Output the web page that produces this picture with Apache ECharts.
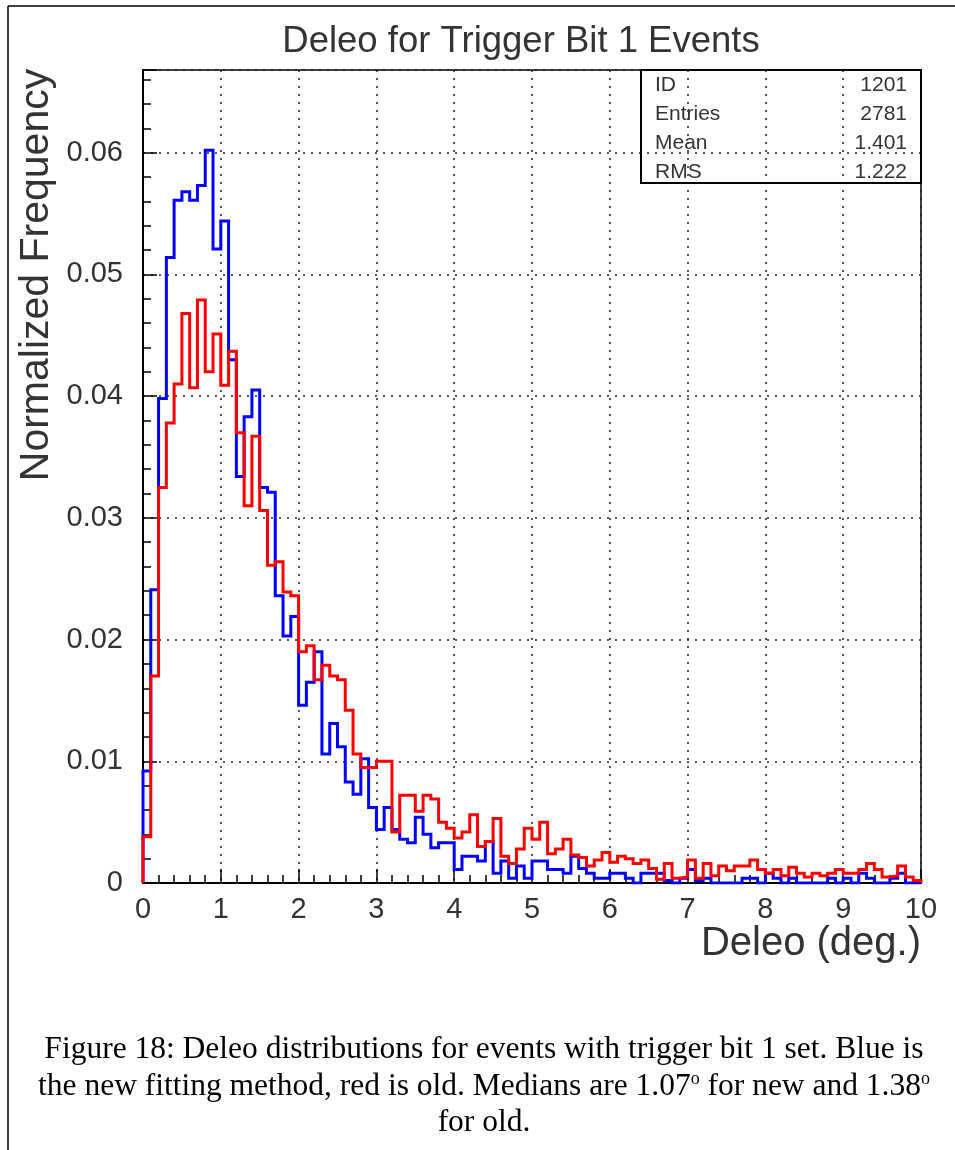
<!DOCTYPE html>
<html><head><meta charset="utf-8">
<script src="https://cdn.jsdelivr.net/npm/echarts@6/dist/echarts.min.js"></script>
<style>html,body{margin:0;padding:0;background:#fff}#c{width:955px;height:1150px}</style>
</head><body><div id="c"></div>
<script>
// Histogram: 100 bins of width 0.1 deg from 0 to 10
const binWidth = 0.1;
const xMin = 0, xMax = 10;
// Blue: new fitting method (normalized frequency per bin)
const newMethod = [
 0.0092,0.0241,0.0398,0.0514,0.0561,0.0568,0.0561,0.0573,0.0602,0.0521,
 0.0544,0.0430,0.0334,0.0383,0.0405,0.0325,0.0321,0.0236,0.0203,0.0219,
 0.0146,0.0165,0.0190,0.0106,0.0131,0.0112,0.0083,0.0073,0.0102,0.0062,
 0.0044,0.0062,0.0044,0.0036,0.0033,0.0054,0.0040,0.0029,0.0033,0.0033,
 0.0011,0.0022,0.0022,0.0018,0.0034,0.0008,0.0018,0.0004,0.0014,0.0004,
 0.0018,0.0018,0.0011,0.0011,0.0008,0.0022,0.0012,0.0008,0.0004,0.0004,
 0.0008,0.0008,0.0004,0.0000,0.0008,0.0008,0.0008,0.0002,0.0000,0.0004,
 0.0011,0.0002,0.0004,0.0000,0.0000,0.0000,0.0000,0.0004,0.0004,0.0000,
 0.0008,0.0004,0.0000,0.0004,0.0000,0.0000,0.0000,0.0000,0.0004,0.0000,
 0.0004,0.0000,0.0008,0.0004,0.0000,0.0000,0.0004,0.0008,0.0000,0.0000
];
// Red: old method
const oldMethod = [
 0.0038,0.0170,0.0325,0.0378,0.0410,0.0468,0.0407,0.0479,0.0420,0.0451,
 0.0409,0.0437,0.0370,0.0310,0.0367,0.0306,0.0261,0.0264,0.0239,0.0236,
 0.0190,0.0195,0.0167,0.0179,0.0170,0.0167,0.0142,0.0106,0.0095,0.0095,
 0.0100,0.0100,0.0042,0.0072,0.0072,0.0059,0.0072,0.0069,0.0050,0.0045,
 0.0037,0.0042,0.0056,0.0030,0.0034,0.0053,0.0022,0.0016,0.0028,0.0045,
 0.0036,0.0050,0.0024,0.0028,0.0036,0.0023,0.0021,0.0014,0.0019,0.0025,
 0.0017,0.0022,0.0020,0.0016,0.0019,0.0012,0.0003,0.0016,0.0004,0.0005,
 0.0019,0.0004,0.0016,0.0006,0.0014,0.0010,0.0014,0.0014,0.0019,0.0011,
 0.0008,0.0011,0.0006,0.0013,0.0008,0.0005,0.0008,0.0006,0.0008,0.0011,
 0.0008,0.0008,0.0011,0.0016,0.0011,0.0005,0.0006,0.0014,0.0005,0.0002
];
const statsLabels = ['ID', 'Entries', 'Mean', 'RMS'];
const statsValues = ['1201', '2781', '1.401', '1.222'];
const titleText = 'Deleo for Trigger Bit 1 Events';
const xAxisTitle = 'Deleo (deg.)';
const yAxisTitle = 'Normalized Frequency';
const captionLines = [
 'Figure 18: Deleo distributions for events with trigger bit 1 set. Blue is',
 'the new fitting method, red is old. Medians are 1.07{sup|o} for new and 1.38{sup|o}',
 'for old.'
];

function stepPoints(vals) {
  const pts = [[xMin, 0]];
  vals.forEach((v, i) => pts.push([+(i * binWidth).toFixed(2), v]));
  pts.push([xMax, vals[vals.length - 1]]);
  pts.push([xMax, 0]);
  return pts;
}

const FONT = '"Liberation Sans", Arial, sans-serif';
const TXT = '#333';
const SERIF = '"Liberation Serif", "Times New Roman", serif';
const chart = echarts.init(document.getElementById('c'), null, {renderer: 'canvas'});

const tickStyle = {color: '#000', width: 1.5};
const option = {
  animation: false,
  backgroundColor: '#fff',
  grid: {left: 143, right: 34, top: 70, bottom: 267, show: true, borderColor: '#000', borderWidth: 1.5, backgroundColor: 'transparent'},
  xAxis: {
    type: 'value', min: xMin, max: xMax, interval: 1,
    axisLine: {show: true, onZero: false, lineStyle: {color: '#000', width: 2}},
    axisTick: {show: true, inside: true, length: 14, lineStyle: tickStyle},
    minorTick: {show: true, splitNumber: 5, length: 8, lineStyle: tickStyle},
    axisLabel: {margin: 12, fontSize: 29, fontFamily: FONT, color: TXT},
    splitLine: {show: true, lineStyle: {color: '#222', type: [2, 6], width: 1.5}},
    minorSplitLine: {show: false}
  },
  yAxis: {
    type: 'value', min: 0, max: 0.0668, interval: 0.01,
    axisLine: {show: true, onZero: false, lineStyle: {color: '#000', width: 2}},
    axisTick: {show: true, inside: true, length: 14, lineStyle: tickStyle},
    minorTick: {show: true, splitNumber: 5, length: 8, lineStyle: tickStyle},
    axisLabel: {
      margin: 20, fontSize: 29, fontFamily: FONT, color: TXT, showMaxLabel: false,
      formatter: function (v) {
        const k = Math.round(v * 100);
        if (Math.abs(v * 100 - k) > 1e-6) return '';
        return k === 0 ? '0' : v.toFixed(2);
      }
    },
    splitLine: {show: true, lineStyle: {color: '#222', type: [2, 6], width: 1.5}},
    minorSplitLine: {show: false}
  },
  series: [
    {type: 'line', name: 'new', data: stepPoints(newMethod), step: 'end', showSymbol: false, symbol: 'none',
     lineStyle: {color: '#0000ff', width: 3, join: 'miter'}, z: 3},
    {type: 'line', name: 'old', data: stepPoints(oldMethod), step: 'end', showSymbol: false, symbol: 'none',
     lineStyle: {color: '#ff0000', width: 3, join: 'miter'}, z: 4}
  ],
  graphic: [
    // page frame
    {type: 'line', shape: {x1: 8, y1: 6, x2: 955, y2: 6}, style: {stroke: '#000', lineWidth: 1.5}},
    {type: 'line', shape: {x1: 8, y1: 6, x2: 8, y2: 1150}, style: {stroke: '#000', lineWidth: 1.5}},
    // title
    {type: 'text', x: 521, y: 42, style: {text: titleText, font: '36.5px ' + FONT, fill: TXT, align: 'center', verticalAlign: 'middle'}},
    // axis titles
    {type: 'text', x: 37, y: 275, rotation: Math.PI / 2, style: {text: yAxisTitle, font: '41px ' + FONT, fill: TXT, align: 'center', verticalAlign: 'middle'}},
    {type: 'text', x: 921, y: 944, style: {text: xAxisTitle, font: '40px ' + FONT, fill: TXT, align: 'right', verticalAlign: 'middle'}},
    // stats box
    {type: 'rect', shape: {x: 641, y: 70, width: 280, height: 113}, style: {fill: 'none', stroke: '#000', lineWidth: 2}, z: 10},
    ...statsLabels.map((t, i) => ({type: 'text', x: 655, y: 85 + i * 29, z: 10,
      style: {text: t, font: '21px ' + FONT, fill: TXT, align: 'left', verticalAlign: 'middle'}})),
    ...statsValues.map((t, i) => ({type: 'text', x: 907, y: 85 + i * 29, z: 10,
      style: {text: t, font: '21px ' + FONT, fill: TXT, align: 'right', verticalAlign: 'middle'}})),
    // caption
    ...captionLines.map((t, i) => ({type: 'text', x: 484, y: 1050 + i * 36.5,
      style: {text: t, font: '31.5px ' + SERIF, fill: '#000', align: 'center', verticalAlign: 'middle',
        rich: {sup: {font: '18px ' + SERIF, fill: '#000', verticalAlign: 'top', padding: [0, 0, 14, 0]}}}}))
  ]
};
chart.setOption(option);
</script>
</body></html>
